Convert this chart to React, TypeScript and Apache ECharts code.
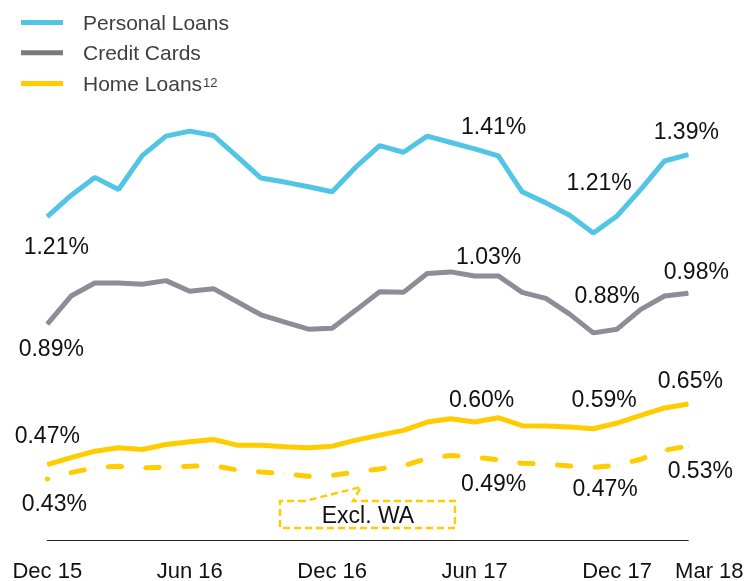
import React, { useEffect, useRef } from "react";
import * as echarts from "echarts";

const months = [
  "Dec 15", "Jan 16", "Feb 16", "Mar 16", "Apr 16", "May 16", "Jun 16", "Jul 16",
  "Aug 16", "Sep 16", "Oct 16", "Nov 16", "Dec 16", "Jan 17", "Feb 17", "Mar 17",
  "Apr 17", "May 17", "Jun 17", "Jul 17", "Aug 17", "Sep 17", "Oct 17", "Nov 17",
  "Dec 17", "Jan 18", "Feb 18", "Mar 18",
];

const tickIndexes = [0, 6, 12, 18, 24, 27];

const personalLoans = [
  1.21, 1.273, 1.327, 1.291, 1.392, 1.45, 1.465, 1.452, 1.389, 1.325, 1.313, 1.299, 1.284, 1.358,
  1.422, 1.402, 1.45, 1.431, 1.412, 1.391, 1.284, 1.251, 1.214, 1.161, 1.212, 1.291, 1.376, 1.395,
];
const creditCards = [
  0.889, 0.973, 1.012, 1.012, 1.008, 1.019, 0.987, 0.995, 0.956, 0.917, 0.895, 0.874, 0.877, 0.931,
  0.986, 0.984, 1.04, 1.045, 1.033, 1.033, 0.984, 0.966, 0.919, 0.863, 0.874, 0.933, 0.973, 0.981,
];
const homeLoans = [
  0.47, 0.491, 0.51, 0.52, 0.515, 0.53, 0.538, 0.545, 0.528, 0.528, 0.523, 0.52, 0.525, 0.543,
  0.558, 0.572, 0.597, 0.607, 0.597, 0.61, 0.586, 0.585, 0.582, 0.577, 0.594, 0.617, 0.639, 0.651,
];
const homeLoansExclWA = [
  0.427, 0.446, 0.461, 0.465, 0.46, 0.462, 0.465, 0.467, 0.454, 0.448, 0.443, 0.435, 0.438, 0.448,
  0.457, 0.466, 0.489, 0.497, 0.492, 0.484, 0.474, 0.472, 0.466, 0.462, 0.468, 0.486, 0.513, 0.525,
];

const labelIndexes = [0, 18, 24, 27];
const personalLabels = ["1.21%", "1.41%", "1.21%", "1.39%"];
const creditLabels = ["0.89%", "1.03%", "0.88%", "0.98%"];
const homeLabels = ["0.47%", "0.60%", "0.59%", "0.65%"];
const exclLabels = ["0.43%", "0.49%", "0.47%", "0.53%"];

const legendNames = ["Personal Loans", "Credit Cards", "Home Loans"];

// layout (label offsets in px relative to each point)
const personalOffsets = [[9, 29], [19, -23], [-18, -34], [-2, -24]];
const creditOffsets = [[4, 24], [14, -20], [-10, -34], [8, -22]];
const homeOffsets = [[0, -30], [7, -23], [-13, -24], [2, -24]];
const exclOffsets = [[7, 24], [19, 26], [-12, 23], [12, 24]];

const FONT = "'Liberation Sans', Arial, Helvetica, sans-serif";
const BLUE = "#52C5E5";
const GREY = "#8D8C97";
const GREY_LEGEND = "#7B7A7F";
const YELLOW = "#FFCC00";

function buildData(values: number[], texts: string[], offsets: number[][]) {
  return values.map((v, i) => {
    const k = labelIndexes.indexOf(i);
    if (k < 0) return v;
    return {
      value: v,
      label: { show: true, formatter: texts[k], offset: offsets[k] },
    };
  });
}

const labelBase = {
  show: false,
  position: "inside",
  fontSize: 23,
  fontFamily: FONT,
  color: "#111111",
  textBorderWidth: 0,
  align: "center",
  verticalAlign: "middle",
};

export default function App() {
  const ref = useRef<HTMLDivElement>(null);

  useEffect(() => {
    if (!ref.current) return;
    const chart = echarts.init(ref.current, null, { renderer: "svg" });

    const lineSeries = (name: string, color: string, data: any[], extra: any = {}) => ({
      name,
      type: "line",
      data,
      symbol: "circle",
      symbolSize: 1,
      showSymbol: true,
      showAllSymbol: true,
      itemStyle: { color },
      lineStyle: { color, width: 5, ...(extra.lineStyle || {}) },
      label: labelBase,
      emphasis: { disabled: true },
      z: extra.z || 2,
    });

    const legendRows = [22.5, 52.8, 83.5];
    const legendColors = [BLUE, GREY_LEGEND, YELLOW];
    const graphics: any[] = [];
    legendNames.forEach((n, i) => {
      graphics.push({
        type: "rect",
        shape: { x: 21, y: legendRows[i] - 2.5, width: 42, height: 5 },
        style: { fill: legendColors[i] },
      });
      graphics.push({
        type: "text",
        x: 83,
        y: legendRows[i],
        style: {
          text: n,
          fontSize: 21,
          fontFamily: FONT,
          fill: "#3F3F3F",
          verticalAlign: "middle",
        },
      });
    });
    graphics.push({
      type: "text",
      x: 203,
      y: 76,
      style: { text: "12", fontSize: 13, fontFamily: FONT, fill: "#3F3F3F", verticalAlign: "top" },
    });
    graphics.push({
      type: "polygon",
      shape: {
        points: [
          [305, 501], [280, 501], [280, 528], [455, 528], [455, 501], [353, 501], [361, 487],
        ],
      },
      style: { fill: "none", stroke: YELLOW, lineWidth: 2.5, lineDash: [7, 4] },
    });
    graphics.push({
      type: "text",
      x: 368,
      y: 515,
      style: {
        text: "Excl. WA",
        fontSize: 23,
        fontFamily: FONT,
        fill: "#111111",
        align: "center",
        verticalAlign: "middle",
      },
    });

    chart.setOption({
      animation: false,
      grid: { left: 47.3, right: 61.7, top: 85.9, bottom: 36, containLabel: false },
      xAxis: {
        type: "category",
        data: months,
        boundaryGap: false,
        axisLine: { show: true, lineStyle: { color: "#222222", width: 1.2 } },
        axisTick: { show: false },
        splitLine: { show: false },
        axisLabel: {
          interval: (index: number) => tickIndexes.includes(index),
          margin: 19,
          formatter: (v: string, i: number) => (i === months.length - 1 ? `{m|${v}}` : `{n|${v}}`),
          rich: {
            n: { fontSize: 22, fontFamily: FONT, color: "#111111" },
            m: { fontSize: 22, fontFamily: FONT, color: "#111111", padding: [0, 0, 0, 42] },
          },
        },
      },
      yAxis: {
        type: "value",
        min: 0.245,
        max: 1.6,
        show: false,
        splitLine: { show: false },
      },
      series: [
        lineSeries("Personal Loans", BLUE, buildData(personalLoans, personalLabels, personalOffsets)),
        lineSeries("Credit Cards", GREY, buildData(creditCards, creditLabels, creditOffsets)),
        lineSeries("Home Loans", YELLOW, buildData(homeLoans, homeLabels, homeOffsets)),
        lineSeries("Home Loans Excl. WA", YELLOW, buildData(homeLoansExclWA, exclLabels, exclOffsets), {
          lineStyle: { type: [13.3, 24.4], dashOffset: 12.9, cap: "round" },
        }),
      ],
      graphic: graphics,
    });

    return () => chart.dispose();
  }, []);

  return (
    <div
      ref={ref}
      style={{ position: "fixed", left: 0, top: 0, width: 750, height: 581 }}
    />
  );
}
